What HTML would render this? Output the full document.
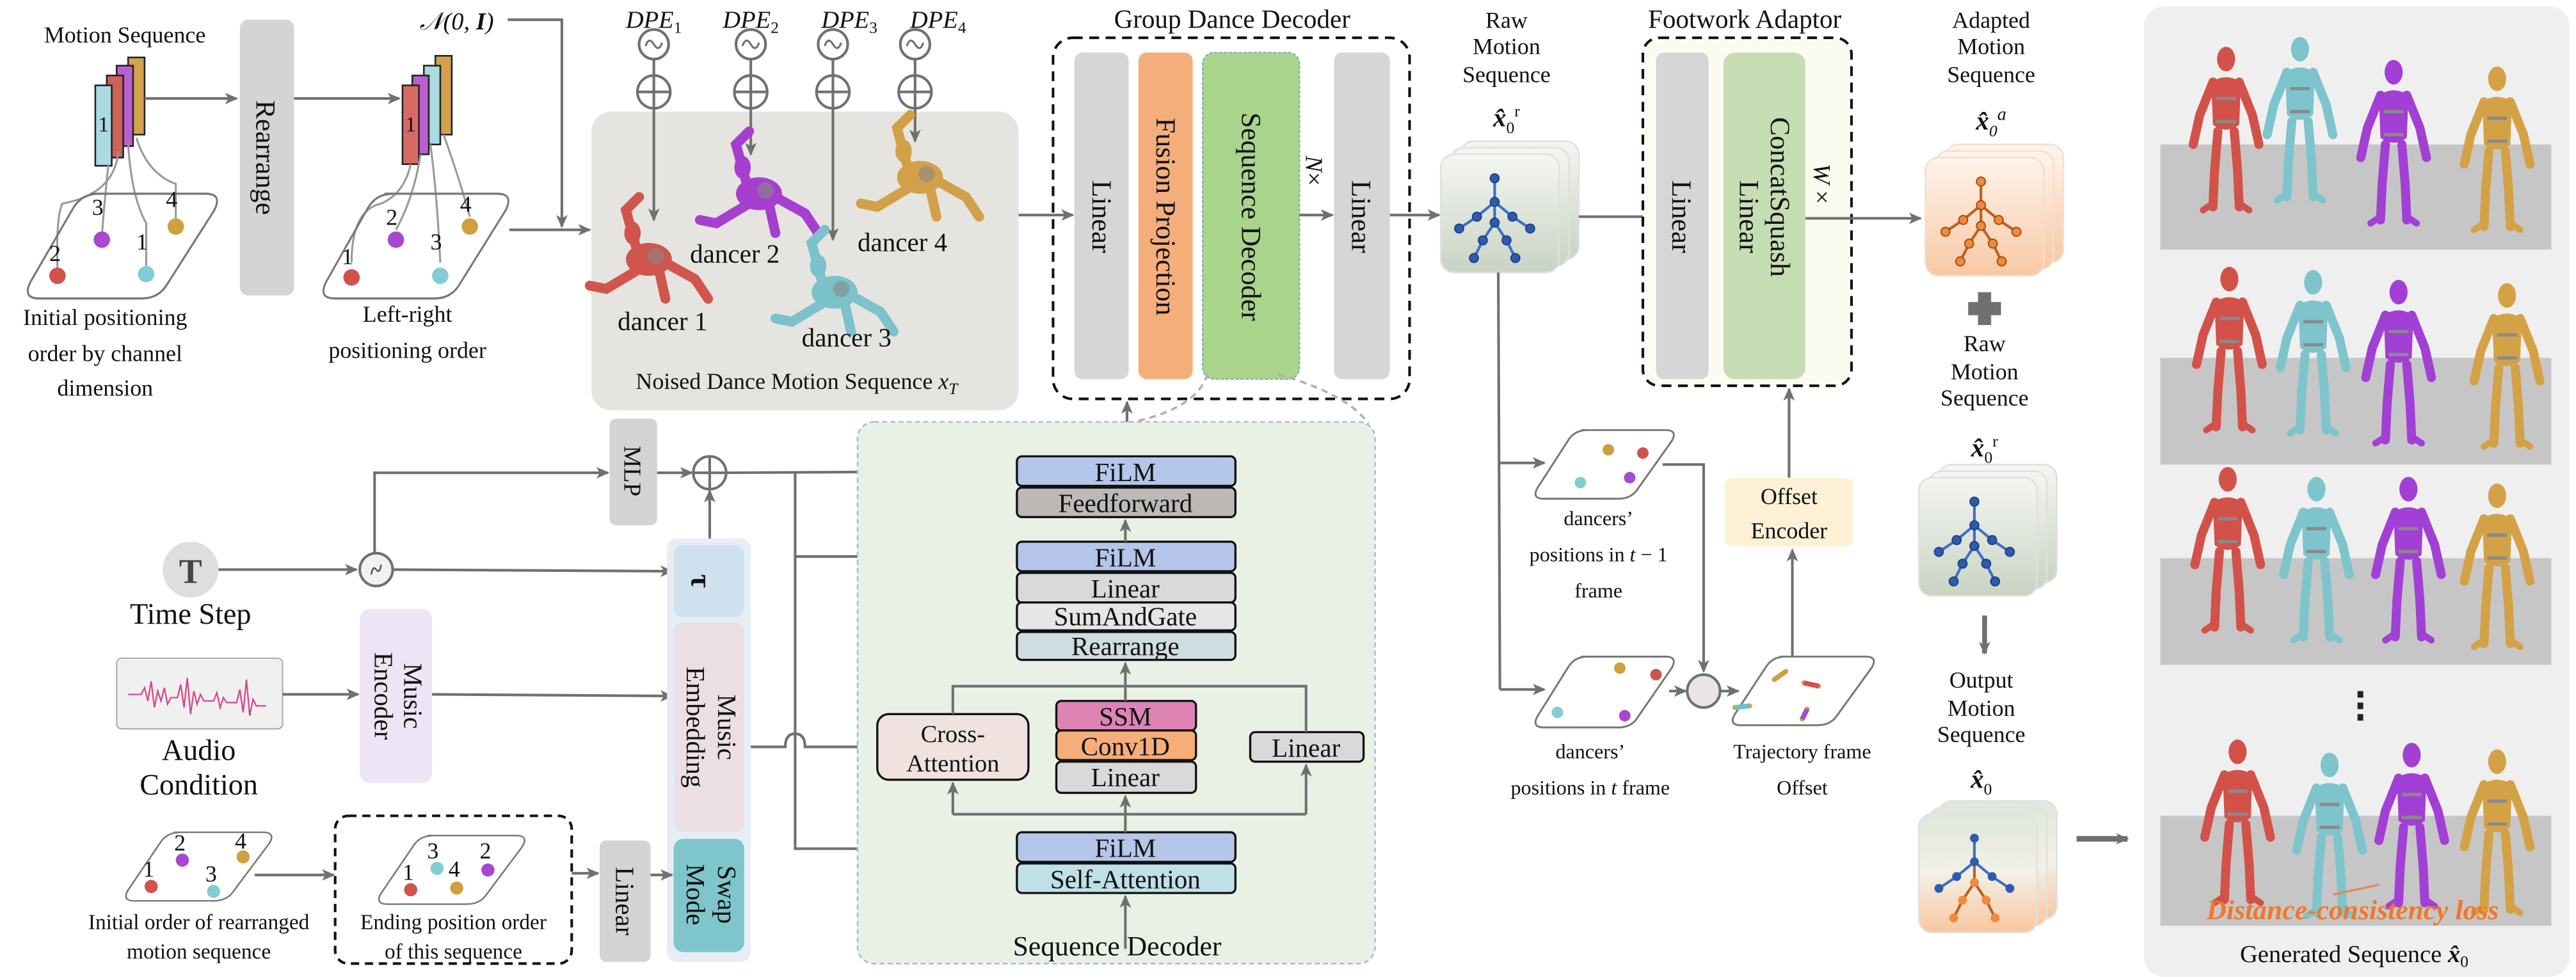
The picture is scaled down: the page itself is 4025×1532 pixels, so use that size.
<!DOCTYPE html>
<html><head><meta charset="utf-8"><style>
html,body{margin:0;padding:0;background:#fff;}
svg{display:block;}
text{font-family:"Liberation Serif",serif;fill:#111;}
</style></head><body>
<svg width="4025" height="1532" viewBox="0 0 1568 597" preserveAspectRatio="none" xmlns="http://www.w3.org/2000/svg">
<defs>
<marker id="ar" markerWidth="8" markerHeight="8" refX="7" refY="4" orient="auto" markerUnits="userSpaceOnUse"><path d="M0,0.5 L8,4 L0,7.5 L2,4Z" fill="#707070"/></marker>
<linearGradient id="gcard" x1="0" y1="0" x2="0" y2="1"><stop offset="0" stop-color="#f4f6f2"/><stop offset="1" stop-color="#c9d3c3"/></linearGradient>
<linearGradient id="ocard" x1="0" y1="0" x2="0" y2="1"><stop offset="0" stop-color="#fff4ec"/><stop offset="1" stop-color="#f8c8a4"/></linearGradient>
<linearGradient id="mcard" x1="0" y1="0" x2="0" y2="1"><stop offset="0" stop-color="#dfe8dc"/><stop offset="0.5" stop-color="#f3f0e6"/><stop offset="1" stop-color="#f8c6a0"/></linearGradient>
<g id="hum">
 <ellipse cx="0" cy="-92" rx="5.5" ry="7.5" fill="currentColor"/>
 <path d="M-9,-78 Q0,-84 9,-78 L8,-52 Q0,-46 -8,-52Z" fill="currentColor"/>
 <path d="M-8,-78 L-16,-58 L-20,-40 M8,-78 L16,-58 L20,-40 M-5,-48 L-7,-24 L-8,-2 M5,-48 L7,-24 L8,-2" stroke="currentColor" stroke-width="5.5" stroke-linecap="round" fill="none"/>
 <path d="M-8,-4 L-14,0 M8,-4 L14,0" stroke="currentColor" stroke-width="4" stroke-linecap="round"/>
 <path d="M-6,-68 L6,-68 M-6,-54 L6,-54" stroke="#8a8a8a" stroke-width="2"/>
</g>
<g id="crouch">
 <ellipse cx="0" cy="0" rx="14" ry="10" fill="currentColor"/>
 <ellipse cx="-10" cy="-16" rx="5" ry="7" fill="currentColor"/>
 <path d="M-8,-8 L-14,-30 L-6,-38 M10,2 L28,12 L36,24 M-6,6 L-26,18 L-36,16 M6,6 L10,24" stroke="currentColor" stroke-width="6" stroke-linecap="round" fill="none"/>
 <circle cx="4" cy="-2" r="5" fill="#888" opacity="0.6"/>
</g>
<g id="skb">
 <path d="M42,14 L42,30 L30,40 L18,48 M42,30 L54,40 L66,48 M42,30 L42,44 L34,56 L28,68 M42,44 L50,56 L56,68" stroke="#3c6fc8" stroke-width="1.8" fill="none"/>
 <g fill="#2d5bb0" stroke="#1d3d80" stroke-width="0.8"><circle cx="42" cy="14" r="3"/><circle cx="42" cy="30" r="3"/><circle cx="30" cy="40" r="3"/><circle cx="18" cy="48" r="3"/><circle cx="54" cy="40" r="3"/><circle cx="66" cy="48" r="3"/><circle cx="42" cy="44" r="3"/><circle cx="34" cy="56" r="3"/><circle cx="28" cy="68" r="3"/><circle cx="50" cy="56" r="3"/><circle cx="56" cy="68" r="3"/></g>
</g>
<g id="sko">
 <path d="M42,14 L42,30 L30,40 L18,48 M42,30 L54,40 L66,48 M42,30 L42,44 L34,56 L28,68 M42,44 L50,56 L56,68" stroke="#c0601c" stroke-width="1.8" fill="none"/>
 <g fill="#f08a3c" stroke="#9a4a10" stroke-width="0.8"><circle cx="42" cy="14" r="3"/><circle cx="42" cy="30" r="3"/><circle cx="30" cy="40" r="3"/><circle cx="18" cy="48" r="3"/><circle cx="54" cy="40" r="3"/><circle cx="66" cy="48" r="3"/><circle cx="42" cy="44" r="3"/><circle cx="34" cy="56" r="3"/><circle cx="28" cy="68" r="3"/><circle cx="50" cy="56" r="3"/><circle cx="56" cy="68" r="3"/></g>
</g>
<g id="skm">
 <path d="M42,14 L42,30 L30,40 L18,48 M42,30 L54,40 L66,48" stroke="#3c6fc8" stroke-width="1.8" fill="none"/>
 <path d="M42,30 L42,44 L34,56 L28,68 M42,44 L50,56 L56,68" stroke="#c0601c" stroke-width="1.8" fill="none"/>
 <g fill="#2d5bb0"><circle cx="42" cy="14" r="3"/><circle cx="42" cy="30" r="3"/><circle cx="30" cy="40" r="3"/><circle cx="18" cy="48" r="3"/><circle cx="54" cy="40" r="3"/><circle cx="66" cy="48" r="3"/></g>
 <g fill="#f08a3c"><circle cx="42" cy="44" r="3"/><circle cx="34" cy="56" r="3"/><circle cx="28" cy="68" r="3"/><circle cx="50" cy="56" r="3"/><circle cx="56" cy="68" r="3"/></g>
</g>
<path id="para" d="M30,0 L84,0 Q92,0 88,7 L66,38 Q62,44 54,44 L6,44 Q-2,44 2,37 L22,6 Q26,0 34,0Z"/>
</defs>

<!-- ===== TOP LEFT ===== -->
<text x="76" y="26" font-size="14" text-anchor="middle">Motion Sequence</text>
<rect x="78" y="35" width="10" height="47" fill="#d4a24c" stroke="#222" stroke-width="1"/>
<rect x="71" y="40" width="10" height="49" fill="#b860d0" stroke="#222" stroke-width="1"/>
<rect x="65" y="46" width="10" height="50" fill="#d0605a" stroke="#222" stroke-width="1"/>
<rect x="58" y="52" width="10" height="49" fill="#a9dbe0" stroke="#222" stroke-width="1"/>
<text x="63" y="80" font-size="13" text-anchor="middle" font-family="Liberation Sans">1</text>
<g stroke="#999" stroke-width="1.2" fill="none">
<path d="M66,100 Q64,118 62,144"/><path d="M72,92 Q70,118 38,124 Q34,132 35,164"/><path d="M78,88 Q80,120 89,136 L89,162"/><path d="M83,84 Q90,106 107,112 L107,134"/>
</g>
<use href="#para" x="16" y="118" transform="translate(16,118) scale(1.3,1.45) translate(-16,-118)" fill="none" stroke="#777" stroke-width="0.9"/>
<circle cx="35" cy="168" r="5" fill="#d0524a"/><circle cx="62" cy="146" r="5" fill="#a848d0"/><circle cx="89" cy="167" r="5" fill="#84ccd4"/><circle cx="107" cy="138" r="5" fill="#cfa040"/>
<g font-family="Liberation Sans" font-size="14"><text x="30" y="159">2</text><text x="56" y="131">3</text><text x="83" y="152">1</text><text x="101" y="126">4</text></g>
<g font-size="14" text-anchor="middle"><text x="64" y="198">Initial positioning</text><text x="64" y="220">order by channel</text><text x="64" y="241">dimension</text></g>
<line x1="88" y1="60" x2="144" y2="60" stroke="#707070" stroke-width="1.6" marker-end="url(#ar)"/>
<rect x="146" y="12" width="33" height="168" rx="5" fill="#d4d4d4"/>
<text transform="translate(156,96) rotate(90)" font-size="17" text-anchor="middle">Rearrange</text>
<line x1="179" y1="60" x2="243" y2="60" stroke="#707070" stroke-width="1.6" marker-end="url(#ar)"/>
<rect x="265" y="34" width="10" height="48" fill="#d4a24c" stroke="#222" stroke-width="1"/>
<rect x="258" y="40" width="10" height="48" fill="#a9dbe0" stroke="#222" stroke-width="1"/>
<rect x="251" y="46" width="10" height="48" fill="#b860d0" stroke="#222" stroke-width="1"/>
<rect x="245" y="52" width="10" height="48" fill="#d86a64" stroke="#222" stroke-width="1"/>
<text x="250" y="80" font-size="13" text-anchor="middle" font-family="Liberation Sans">1</text>
<g stroke="#999" stroke-width="1.2" fill="none">
<path d="M250,100 Q246,118 232,124 Q214,128 214,160"/><path d="M256,94 Q252,120 241,140"/><path d="M262,88 Q266,118 268,160"/><path d="M270,82 Q280,110 286,132"/>
</g>
<use href="#para" transform="translate(196,118) scale(1.27,1.45)" fill="none" stroke="#777" stroke-width="0.9"/>
<circle cx="214" cy="169" r="5" fill="#d0524a"/><circle cx="241" cy="146" r="5" fill="#a848d0"/><circle cx="268" cy="168" r="5" fill="#84ccd4"/><circle cx="286" cy="138" r="5" fill="#cfa040"/>
<g font-family="Liberation Sans" font-size="14"><text x="208" y="161">1</text><text x="235" y="137">2</text><text x="262" y="152">3</text><text x="280" y="129">4</text></g>
<g font-size="14" text-anchor="middle"><text x="248" y="196">Left-right</text><text x="248" y="218">positioning order</text></g>
<line x1="310" y1="140" x2="359" y2="140" stroke="#707070" stroke-width="1.6" marker-end="url(#ar)"/>
<text x="278" y="18" font-size="15" text-anchor="middle" font-style="italic">𝒩(0, <tspan font-weight="bold">I</tspan>)</text>
<polyline points="309,12 342,12 342,138" fill="none" stroke="#707070" stroke-width="1.6" marker-end="url(#ar)"/>

<!-- Noised box -->
<rect x="360" y="68" width="260" height="182" rx="12" fill="#e6e4e0"/>
<g font-size="15" font-style="italic" text-anchor="middle"><text x="398" y="17">DPE<tspan font-size="10" dy="3" font-style="normal">1</tspan></text><text x="457" y="17">DPE<tspan font-size="10" dy="3" font-style="normal">2</tspan></text><text x="517" y="17">DPE<tspan font-size="10" dy="3" font-style="normal">3</tspan></text><text x="571" y="17">DPE<tspan font-size="10" dy="3" font-style="normal">4</tspan></text></g>
<g stroke="#707070" stroke-width="1.6" fill="#fff">
<circle cx="398" cy="27" r="9"/><circle cx="457" cy="27" r="9"/><circle cx="507" cy="27" r="9"/><circle cx="557" cy="27" r="9"/>
<circle cx="398" cy="56" r="10"/><circle cx="457" cy="56" r="10"/><circle cx="507" cy="56" r="10"/><circle cx="557" cy="56" r="10"/>
<path d="M398,46 v20 M388,56 h20 M457,46 v20 M447,56 h20 M507,46 v20 M497,56 h20 M557,46 v20 M547,56 h20" fill="none"/>
<path d="M393,28 q2,-6 5,-1 q3,5 5,-1 M452,28 q2,-6 5,-1 q3,5 5,-1 M502,28 q2,-6 5,-1 q3,5 5,-1 M552,28 q2,-6 5,-1 q3,5 5,-1" fill="none" stroke-width="1.2"/>
<path d="M398,36 v10 M457,36 v10 M507,36 v10 M557,36 v10" fill="none"/>
</g>
<g stroke="#707070" stroke-width="1.6" marker-end="url(#ar)"><line x1="398" y1="66" x2="398" y2="134"/><line x1="457" y1="66" x2="457" y2="94"/><line x1="507" y1="66" x2="507" y2="146"/><line x1="557" y1="66" x2="557" y2="86"/></g>
<use href="#crouch" x="395" y="158" style="color:#d0554c"/>
<use href="#crouch" x="462" y="118" style="color:#a63fd0"/>
<use href="#crouch" x="508" y="178" style="color:#7cc2ca"/>
<use href="#crouch" x="560" y="108" style="color:#d2a048"/>
<g font-size="16"><text x="376" y="201">dancer 1</text><text x="420" y="160">dancer 2</text><text x="488" y="211">dancer 3</text><text x="522" y="153">dancer 4</text></g>
<text x="485" y="237" font-size="14" text-anchor="middle">Noised Dance Motion Sequence <tspan font-style="italic">x<tspan font-size="10" dy="3">T</tspan></tspan></text>

<!-- Group Dance Decoder -->
<text x="750" y="17" font-size="16" text-anchor="middle">Group Dance Decoder</text>
<rect x="641" y="23" width="217" height="220" rx="12" fill="#fff" stroke="#111" stroke-width="1.6" stroke-dasharray="6,4"/>
<rect x="654" y="32" width="33" height="199" rx="5" fill="#d6d6d6"/>
<rect x="693" y="32" width="33" height="199" rx="5" fill="#f4ae7c"/>
<rect x="732" y="32" width="59" height="199" rx="7" fill="#a8d48c" stroke="#8aa8b8" stroke-width="0.8" stroke-dasharray="2,1"/>
<rect x="812" y="32" width="34" height="199" rx="5" fill="#d6d6d6"/>
<g font-size="17" text-anchor="middle">
<text transform="translate(665,132) rotate(90)">Linear</text>
<text transform="translate(704,132) rotate(90)">Fusion Projection</text>
<text transform="translate(756,132) rotate(90)">Sequence Decoder</text>
<text transform="translate(823,132) rotate(90)">Linear</text>
<text transform="translate(795,104) rotate(90)" font-size="15"><tspan font-style="italic">N</tspan>×</text>
</g>
<line x1="620" y1="131" x2="653" y2="131" stroke="#707070" stroke-width="1.6" marker-end="url(#ar)"/>
<line x1="791" y1="131" x2="811" y2="131" stroke="#707070" stroke-width="1.6" marker-end="url(#ar)"/>
<line x1="846" y1="131" x2="876" y2="131" stroke="#707070" stroke-width="1.6" marker-end="url(#ar)"/>
<path d="M735,228 Q728,250 685,258 M778,228 Q820,240 833,258" fill="none" stroke="#b0b0b0" stroke-width="1.4" stroke-dasharray="4,3"/>
<line x1="686" y1="278" x2="686" y2="245" stroke="#707070" stroke-width="1.6" marker-end="url(#ar)"/>

<!-- ===== LOWER LEFT ===== -->
<rect x="371" y="255" width="29" height="65" rx="4" fill="#d4d4d4"/>
<text transform="translate(380,287) rotate(90)" font-size="15" text-anchor="middle">MLP</text>
<circle cx="432" cy="288" r="10" fill="#fff" stroke="#707070" stroke-width="1.6"/>
<path d="M432,278 v20 M422,288 h20" stroke="#707070" stroke-width="1.6"/>
<circle cx="116" cy="347" r="17" fill="#dedede"/>
<text x="116" y="355" font-size="21" font-weight="bold" text-anchor="middle" font-family="Liberation Sans" style="fill:#444">T</text>
<text x="116" y="380" font-size="18" text-anchor="middle">Time Step</text>
<line x1="133" y1="347" x2="217" y2="347" stroke="#707070" stroke-width="1.6" marker-end="url(#ar)"/>
<circle cx="229" cy="347" r="10" fill="#f2f2f2" stroke="#707070" stroke-width="1.6"/>
<path d="M226,350 q1,-6 3,-3 q2,3 3,-3" stroke="#555" fill="none" stroke-width="1"/>
<polyline points="228,337 228,288 370,288" fill="none" stroke="#707070" stroke-width="1.6" marker-end="url(#ar)"/>
<line x1="239" y1="347" x2="409" y2="348" stroke="#707070" stroke-width="1.6" marker-end="url(#ar)"/>
<line x1="400" y1="288" x2="421" y2="288" stroke="#707070" stroke-width="1.6" marker-end="url(#ar)"/>
<rect x="71" y="401" width="101" height="43" rx="3" fill="#f0f0f0" stroke="#aaa" stroke-width="0.8"/>
<path d="M78,423 h8 l2,-4 l2,8 l2,-12 l2,16 l2,-10 l2,6 l2,-8 l2,10 l2,-4 h4 l2,-8 l2,14 l2,-18 l2,22 l2,-14 l2,8 l2,-6 l2,4 h6 l2,-5 l2,9 l2,-6 l2,3 h6 l2,-8 l2,14 l2,-20 l2,22 l2,-10 l2,4 h6" stroke="#d84a8a" stroke-width="0.9" fill="none"/>
<text x="121" y="463" font-size="18" text-anchor="middle">Audio</text>
<text x="121" y="484" font-size="18" text-anchor="middle">Condition</text>
<line x1="172" y1="423" x2="218" y2="423" stroke="#707070" stroke-width="1.6" marker-end="url(#ar)"/>
<rect x="219" y="371" width="44" height="106" rx="6" fill="#ede4f6"/>
<text transform="translate(246,424) rotate(90)" font-size="16" text-anchor="middle">Music</text>
<text transform="translate(228,424) rotate(90)" font-size="16" text-anchor="middle">Encoder</text>
<line x1="263" y1="423" x2="409" y2="424" stroke="#707070" stroke-width="1.6" marker-end="url(#ar)"/>
<rect x="406" y="328" width="51" height="258" rx="6" fill="#e6eef5"/>
<rect x="410" y="332" width="43" height="44" rx="6" fill="#cfe1ef"/>
<text transform="translate(421,354) rotate(90)" font-size="18" text-anchor="middle" font-weight="bold">τ</text>
<rect x="410" y="379" width="43" height="128" rx="6" fill="#ecdfe4"/>
<text transform="translate(437,443) rotate(90)" font-size="16" text-anchor="middle">Music</text>
<text transform="translate(418,443) rotate(90)" font-size="16" text-anchor="middle">Embedding</text>
<rect x="410" y="511" width="43" height="69" rx="6" fill="#7ec6cc"/>
<text transform="translate(437,545) rotate(90)" font-size="16" text-anchor="middle">Swap</text>
<text transform="translate(418,545) rotate(90)" font-size="16" text-anchor="middle">Mode</text>
<line x1="432" y1="328" x2="432" y2="299" stroke="#707070" stroke-width="1.6" marker-end="url(#ar)"/>
<!-- params bottom -->
<use href="#para" transform="translate(76,507) scale(1,0.95)" fill="none" stroke="#777" stroke-width="1"/>
<circle cx="92" cy="540" r="4" fill="#d0524a"/><circle cx="111" cy="524" r="4" fill="#a848d0"/><circle cx="130" cy="543" r="4" fill="#84ccd4"/><circle cx="148" cy="522" r="4" fill="#cfa040"/>
<g font-family="Liberation Sans" font-size="14"><text x="87" y="534">1</text><text x="106" y="518">2</text><text x="125" y="537">3</text><text x="143" y="517">4</text></g>
<line x1="155" y1="533" x2="203" y2="533" stroke="#707070" stroke-width="1.6" marker-end="url(#ar)"/>
<rect x="204" y="497" width="144" height="90" rx="8" fill="none" stroke="#111" stroke-width="1.6" stroke-dasharray="5,3.5"/>
<use href="#para" transform="translate(230,509) scale(1,0.95)" fill="none" stroke="#777" stroke-width="1"/>
<circle cx="250" cy="542" r="4" fill="#d0524a"/><circle cx="266" cy="529" r="4" fill="#84ccd4"/><circle cx="278" cy="541" r="4" fill="#cfa040"/><circle cx="297" cy="530" r="4" fill="#a848d0"/>
<g font-family="Liberation Sans" font-size="14"><text x="245" y="536">1</text><text x="260" y="523">3</text><text x="273" y="534">4</text><text x="292" y="523">2</text></g>
<g font-size="13" text-anchor="middle"><text x="121" y="566">Initial order of rearranged</text><text x="121" y="584">motion sequence</text><text x="276" y="566">Ending position order</text><text x="276" y="584">of this sequence</text></g>
<line x1="348" y1="532" x2="364" y2="532" stroke="#707070" stroke-width="1.6" marker-end="url(#ar)"/>
<rect x="365" y="512" width="31" height="74" rx="4" fill="#d4d4d4"/>
<text transform="translate(375,549) rotate(90)" font-size="16" text-anchor="middle">Linear</text>
<line x1="396" y1="533" x2="409" y2="533" stroke="#707070" stroke-width="1.6" marker-end="url(#ar)"/>

<!-- trunk -->
<g stroke="#707070" stroke-width="1.6" fill="none">
<line x1="442" y1="288" x2="618" y2="287" marker-end="url(#ar)"/>
<polyline points="484,288 484,517 618,517" marker-end="url(#ar)"/>
<line x1="484" y1="339" x2="618" y2="339" marker-end="url(#ar)"/>
<path d="M457,455 L478,455 Q478,447 484,447 Q490,447 490,455 L532,455" marker-end="url(#ar)"/>
</g>

<!-- Sequence Decoder panel -->
<rect x="522" y="257" width="315" height="330" rx="10" fill="#e9f1e5" stroke="#a8bcd8" stroke-width="1" stroke-dasharray="3,2"/>
<g stroke="#111" stroke-width="1.3">
<rect x="619" y="278" width="133" height="18" rx="3" fill="#b4c6ea"/>
<rect x="619" y="297" width="133" height="18" rx="3" fill="#bcb9b7"/>
<rect x="619" y="330" width="133" height="18" rx="3" fill="#b4c6ea"/>
<rect x="619" y="349" width="133" height="18" rx="3" fill="#d9d9d9"/>
<rect x="619" y="367" width="133" height="17" rx="3" fill="#e6e6e6"/>
<rect x="619" y="385" width="133" height="17" rx="3" fill="#d0dde0"/>
<rect x="534" y="435" width="92" height="40" rx="7" fill="#f0e2de"/>
<rect x="643" y="427" width="85" height="18" rx="3" fill="#dd84b4"/>
<rect x="643" y="445" width="85" height="18" rx="3" fill="#f5ad7a"/>
<rect x="643" y="464" width="85" height="19" rx="3" fill="#d9d9d9"/>
<rect x="761" y="446" width="69" height="18" rx="3" fill="#d9d9d9"/>
<rect x="619" y="507" width="133" height="18" rx="3" fill="#b4c6ea"/>
<rect x="619" y="526" width="133" height="18" rx="3" fill="#bfe0e6"/>
</g>
<g font-size="16" text-anchor="middle">
<text x="685" y="293">FiLM</text><text x="685" y="312">Feedforward</text>
<text x="685" y="345">FiLM</text><text x="685" y="364">Linear</text><text x="685" y="381">SumAndGate</text><text x="685" y="399">Rearrange</text>
<text x="580" y="452" font-size="15">Cross-</text><text x="580" y="470" font-size="15">Attention</text>
<text x="685" y="442">SSM</text><text x="685" y="460">Conv1D</text><text x="685" y="479">Linear</text>
<text x="795" y="461">Linear</text>
<text x="685" y="522">FiLM</text><text x="685" y="541">Self-Attention</text>
<text x="680" y="582" font-size="17">Sequence Decoder</text>
</g>
<g stroke="#707070" stroke-width="1.6" fill="none">
<line x1="685" y1="578" x2="685" y2="546" marker-end="url(#ar)"/>
<line x1="685" y1="507" x2="685" y2="485" marker-end="url(#ar)"/>
<polyline points="580,496 795,496"/>
<line x1="580" y1="496" x2="580" y2="477" marker-end="url(#ar)"/>
<line x1="795" y1="496" x2="795" y2="466" marker-end="url(#ar)"/>
<line x1="685" y1="427" x2="685" y2="404" marker-end="url(#ar)"/>
<polyline points="580,435 580,418 795,418 795,446"/>
<line x1="685" y1="330" x2="685" y2="317" marker-end="url(#ar)"/>
</g>

<!-- ===== RIGHT MIDDLE ===== -->
<g font-size="14" text-anchor="middle"><text x="917" y="17">Raw</text><text x="917" y="33">Motion</text><text x="917" y="50">Sequence</text></g>
<text x="917" y="77" font-size="16" text-anchor="middle" font-weight="bold" font-style="italic">x̂<tspan font-size="10" dy="4" font-weight="normal" font-style="normal">0</tspan><tspan font-size="10" dy="-10" font-weight="normal" font-style="normal">r</tspan></text>
<rect x="889" y="86" width="72" height="72" rx="8" fill="url(#gcard)" stroke="#e0e0e0"/>
<rect x="883" y="90" width="72" height="72" rx="8" fill="url(#gcard)" stroke="#e0e0e0"/>
<rect x="877" y="94" width="72" height="72" rx="8" fill="url(#gcard)" stroke="#e0e0e0"/>
<use href="#skb" transform="translate(872,96) scale(0.9)"/>
<line x1="961" y1="132" x2="1007" y2="132" stroke="#707070" stroke-width="1.6" marker-end="url(#ar)"/>
<text x="1062" y="17" font-size="16" text-anchor="middle">Footwork Adaptor</text>
<rect x="1000" y="23" width="127" height="212" rx="10" fill="#fbfcf0" stroke="#111" stroke-width="1.6" stroke-dasharray="6,4"/>
<rect x="1008" y="32" width="32" height="199" rx="5" fill="#d6d6d6"/>
<rect x="1049" y="32" width="50" height="199" rx="7" fill="#c6ddb4"/>
<g font-size="17" text-anchor="middle">
<text transform="translate(1018,132) rotate(90)">Linear</text>
<text transform="translate(1078,120) rotate(90)">ConcatSquash</text>
<text transform="translate(1059,132) rotate(90)">Linear</text>
<text transform="translate(1104,112) rotate(90)" font-size="15"><tspan font-style="italic">W</tspan> ×</text>
</g>
<line x1="1099" y1="133" x2="1169" y2="133" stroke="#707070" stroke-width="1.6" marker-end="url(#ar)"/>
<g stroke="#707070" stroke-width="1.6" fill="none">
<line x1="912" y1="166" x2="913" y2="420"/>
<line x1="913" y1="282" x2="940" y2="282" marker-end="url(#ar)"/>
<line x1="913" y1="420" x2="940" y2="420" marker-end="url(#ar)"/>
<polyline points="1012,283 1037,283 1037,409" marker-end="url(#ar)"/>
<line x1="1016" y1="421" x2="1026" y2="421" marker-end="url(#ar)"/>
<line x1="1047" y1="421" x2="1058" y2="421" marker-end="url(#ar)"/>
<line x1="1091" y1="400" x2="1091" y2="335" marker-end="url(#ar)"/>
<line x1="1089" y1="291" x2="1089" y2="237" marker-end="url(#ar)"/>
</g>
<use href="#para" transform="translate(934,262) scale(0.95,0.95)" fill="#fff" stroke="#777" stroke-width="1.2"/>
<circle cx="979" cy="274" r="3.5" fill="#cfa040"/><circle cx="1000" cy="276" r="3.5" fill="#d0524a"/><circle cx="962" cy="294" r="3.5" fill="#84ccd4"/><circle cx="992" cy="291" r="3.5" fill="#a848d0"/>
<use href="#para" transform="translate(934,400) scale(0.95,0.98)" fill="#fff" stroke="#777" stroke-width="1.2"/>
<circle cx="986" cy="407" r="3.5" fill="#cfa040"/><circle cx="1008" cy="411" r="3.5" fill="#d0524a"/><circle cx="948" cy="434" r="3.5" fill="#84ccd4"/><circle cx="989" cy="436" r="3.5" fill="#a848d0"/>
<circle cx="1037" cy="421" r="10" fill="#e8e4e8" stroke="#707070" stroke-width="1.6"/>
<use href="#para" transform="translate(1054,400) scale(0.97,0.95)" fill="#fff" stroke="#777" stroke-width="1.2"/>
<path d="M1080,414 l7,-5 M1098,416 l9,2 M1065,430 l-9,1 M1100,432 l-3,6" stroke-width="3" stroke-linecap="round" fill="none" stroke="#d0a040"/>
<path d="M1098,416 l9,2" stroke="#d05050" stroke-width="3"/><path d="M1065,430 l-9,1" stroke="#70c0c8" stroke-width="3"/><path d="M1100,432 l-3,6" stroke="#a848d0" stroke-width="3"/>
<g font-size="12.5" text-anchor="middle">
<text x="973" y="320">dancers’</text><text x="973" y="342">positions in <tspan font-style="italic">t</tspan> − 1</text><text x="973" y="364">frame</text>
<text x="968" y="462">dancers’</text><text x="968" y="484">positions in <tspan font-style="italic">t</tspan> frame</text>
<text x="1097" y="462">Trajectory frame</text><text x="1097" y="484">Offset</text>
</g>
<rect x="1050" y="291" width="78" height="42" rx="5" fill="#fcf1d6"/>
<text x="1089" y="307" font-size="14" text-anchor="middle">Offset</text>
<text x="1089" y="328" font-size="14" text-anchor="middle">Encoder</text>

<!-- Adapted / Raw / Output -->
<g font-size="14" text-anchor="middle"><text x="1212" y="17">Adapted</text><text x="1212" y="33">Motion</text><text x="1212" y="50">Sequence</text>
<text x="1208" y="214">Raw</text><text x="1208" y="231">Motion</text><text x="1208" y="247">Sequence</text>
<text x="1206" y="419">Output</text><text x="1206" y="436">Motion</text><text x="1206" y="452">Sequence</text></g>
<text x="1212" y="79" font-size="16" text-anchor="middle" font-weight="bold" font-style="italic">x̂<tspan font-size="10" dy="4" font-weight="normal">0</tspan><tspan font-size="11" dy="-10" font-weight="normal">a</tspan></text>
<text x="1208" y="278" font-size="16" text-anchor="middle" font-weight="bold" font-style="italic">x̂<tspan font-size="10" dy="4" font-weight="normal" font-style="normal">0</tspan><tspan font-size="10" dy="-10" font-weight="normal" font-style="normal">r</tspan></text>
<text x="1206" y="480" font-size="16" text-anchor="middle" font-weight="bold" font-style="italic">x̂<tspan font-size="10" dy="4" font-weight="normal" font-style="normal">0</tspan></text>
<rect x="1184" y="88" width="72" height="72" rx="8" fill="url(#ocard)" stroke="#f0e0d0"/>
<rect x="1178" y="92" width="72" height="72" rx="8" fill="url(#ocard)" stroke="#f0e0d0"/>
<rect x="1172" y="96" width="72" height="72" rx="8" fill="url(#ocard)" stroke="#f0e0d0"/>
<use href="#sko" transform="translate(1168,98) scale(0.9)"/>
<path d="M1204,178 h8 v6 h6 v8 h-6 v6 h-8 v-6 h-6 v-8 h6z" fill="#707070"/>
<rect x="1180" y="283" width="72" height="72" rx="8" fill="url(#gcard)" stroke="#e0e0e0"/>
<rect x="1174" y="287" width="72" height="72" rx="8" fill="url(#gcard)" stroke="#e0e0e0"/>
<rect x="1168" y="291" width="72" height="72" rx="8" fill="url(#gcard)" stroke="#e0e0e0"/>
<use href="#skb" transform="translate(1164,293) scale(0.9)"/>
<line x1="1208" y1="375" x2="1208" y2="398" stroke="#707070" stroke-width="3" marker-end="url(#ar)"/>
<rect x="1180" y="488" width="72" height="72" rx="8" fill="url(#mcard)" stroke="#e0e0e0"/>
<rect x="1174" y="492" width="72" height="72" rx="8" fill="url(#mcard)" stroke="#e0e0e0"/>
<rect x="1168" y="496" width="72" height="72" rx="8" fill="url(#mcard)" stroke="#e0e0e0"/>
<use href="#skm" transform="translate(1164,498) scale(0.9)"/>
<line x1="1264" y1="511" x2="1295" y2="511" stroke="#707070" stroke-width="3.5" marker-end="url(#ar)"/>

<!-- Right panel -->
<rect x="1305" y="4" width="259" height="591" rx="12" fill="#efefef"/>
<rect x="1315" y="88" width="238" height="64" fill="#c6c6c6"/>
<rect x="1315" y="218" width="238" height="65" fill="#c6c6c6"/>
<rect x="1315" y="340" width="238" height="65" fill="#c6c6c6"/>
<rect x="1315" y="497" width="238" height="67" fill="#c6c6c6"/>
<use href="#hum" transform="translate(1355,128)" style="color:#d2524a"/>
<use href="#hum" transform="translate(1400,122)" style="color:#7ec4cc"/>
<use href="#hum" transform="translate(1457,136)" style="color:#a23fd4"/>
<use href="#hum" transform="translate(1520,140)" style="color:#d4a246"/>
<use href="#hum" transform="translate(1357,262)" style="color:#d2524a"/>
<use href="#hum" transform="translate(1408,264)" style="color:#7ec4cc"/>
<use href="#hum" transform="translate(1460,270)" style="color:#a23fd4"/>
<use href="#hum" transform="translate(1526,272)" style="color:#d4a246"/>
<use href="#hum" transform="translate(1356,384)" style="color:#d2524a"/>
<use href="#hum" transform="translate(1410,390)" style="color:#7ec4cc"/>
<use href="#hum" transform="translate(1466,390)" style="color:#a23fd4"/>
<use href="#hum" transform="translate(1520,394)" style="color:#d4a246"/>
<use href="#hum" transform="translate(1362,550)" style="color:#d2524a"/>
<use href="#hum" transform="translate(1418,558)" style="color:#7ec4cc"/>
<use href="#hum" transform="translate(1468,552)" style="color:#a23fd4"/>
<use href="#hum" transform="translate(1520,556)" style="color:#d4a246"/>
<g fill="#222"><rect x="1435" y="421" width="3.5" height="4"/><rect x="1435" y="428" width="3.5" height="4"/><rect x="1435" y="435" width="3.5" height="4"/></g>
<line x1="1420" y1="545" x2="1448" y2="539" stroke="#f08050" stroke-width="1.2"/>
<text x="1432" y="560" font-size="17" font-weight="bold" font-style="italic" text-anchor="middle" style="fill:#f0782a">Distance-consistency loss</text>
<text x="1433" y="586" font-size="15" text-anchor="middle">Generated Sequence <tspan font-weight="bold" font-style="italic">x̂</tspan><tspan font-size="10" dy="3">0</tspan></text>
</svg>
</body></html>
